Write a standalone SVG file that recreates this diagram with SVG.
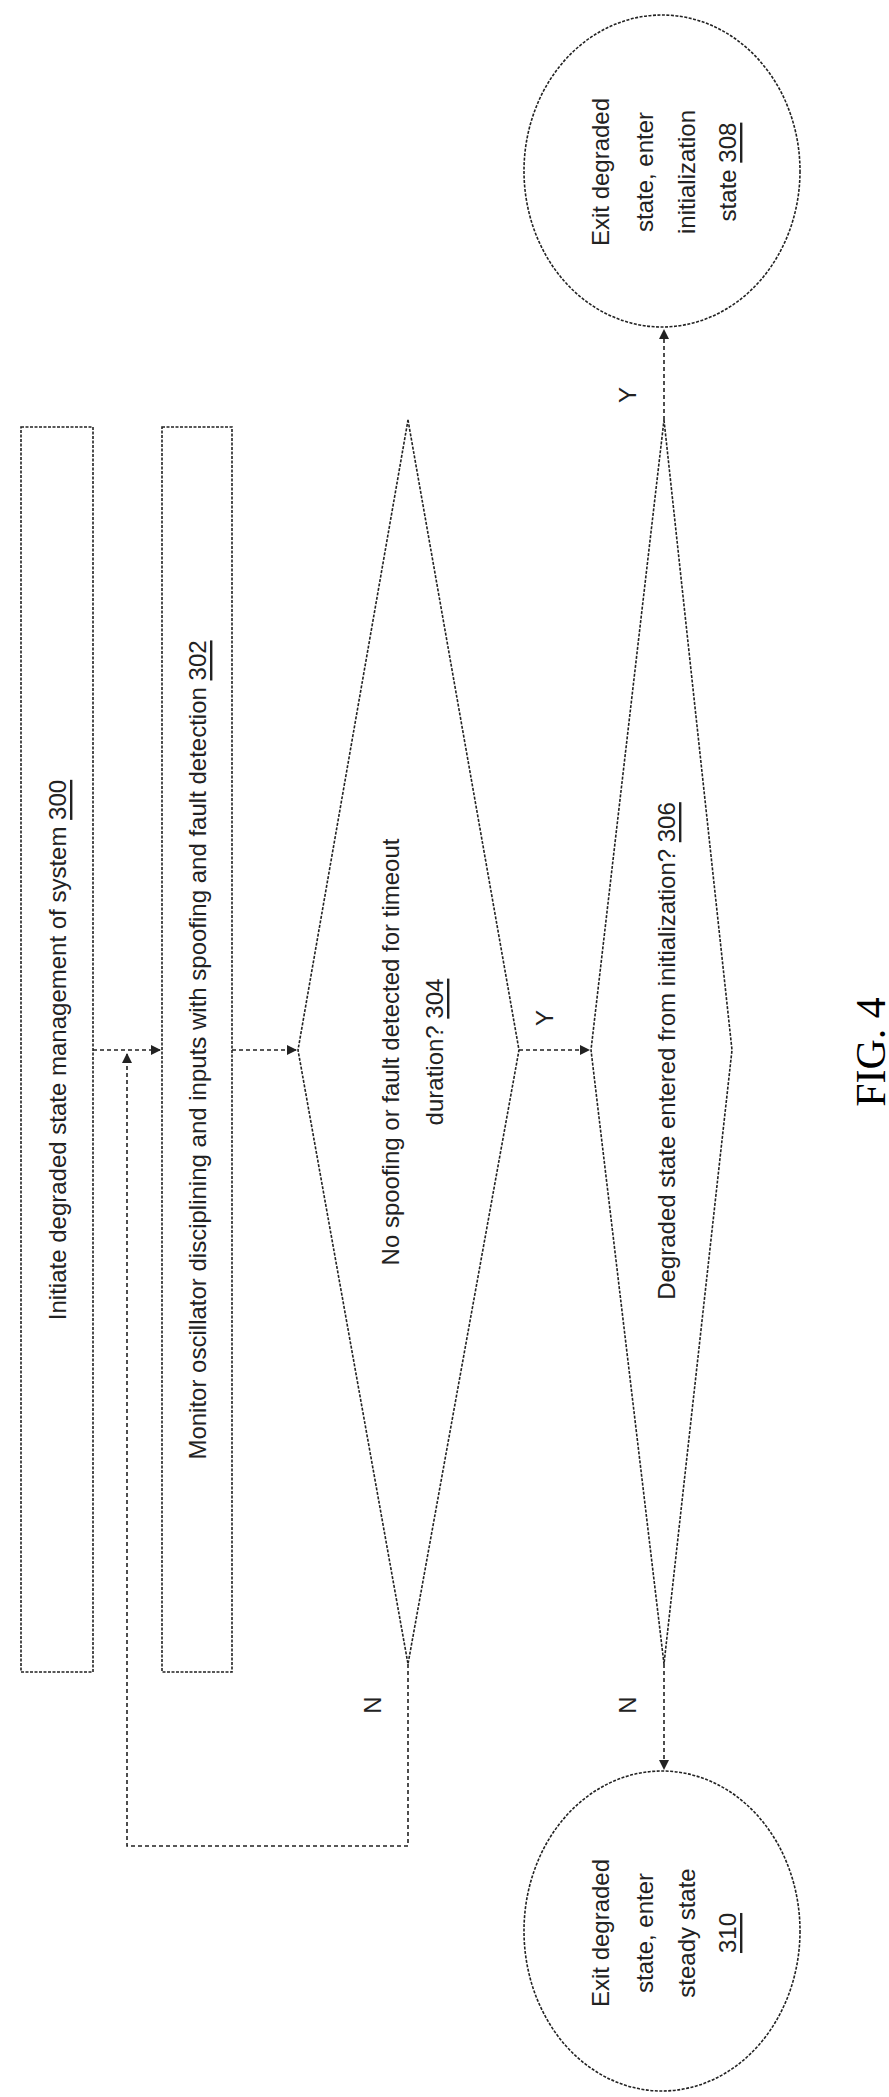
<svg xmlns="http://www.w3.org/2000/svg" width="889" height="2097" viewBox="0 0 889 2097">
<style>
.s{fill:none;stroke:#222;stroke-width:1.6;stroke-dasharray:3 1.5}
.c{fill:none;stroke:#222;stroke-width:1.6;stroke-dasharray:4 3}
text{font-family:"Liberation Sans",Arial,sans-serif;font-size:24px;fill:#222;text-anchor:middle;dominant-baseline:central}
.f{font-family:"Liberation Serif","Times New Roman",serif;font-size:42px;fill:#000}
</style>
<defs><marker id="a" markerWidth="10" markerHeight="10" refX="9" refY="5" orient="auto" markerUnits="userSpaceOnUse"><path d="M0,0 L10,5 L0,10 z" fill="#222"/></marker></defs>
<rect width="889" height="2097" fill="#fff"/>
<g id="n300"><rect class="s" x="21" y="427" width="72" height="1245"/><text transform="translate(57,1050) rotate(-90)">Initiate degraded state management of system <tspan text-decoration="underline">300</tspan></text></g>
<g id="n302"><rect class="s" x="162" y="427" width="70" height="1245"/><text transform="translate(197,1050) rotate(-90)">Monitor oscillator disciplining and inputs with spoofing and fault detection <tspan text-decoration="underline">302</tspan></text></g>
<g id="n304"><polygon class="s" points="408,420 519,1050 408,1664 298,1050"/><text transform="translate(390,1052) rotate(-90)">No spoofing or fault detected for timeout</text><text transform="translate(434,1052) rotate(-90)">duration? <tspan text-decoration="underline">304</tspan></text></g>
<g id="n306"><polygon class="s" points="664,420 732,1050 664,1664 591,1050"/><text transform="translate(666,1051) rotate(-90)">Degraded state entered from initialization? <tspan text-decoration="underline">306</tspan></text></g>
<g id="n308"><ellipse class="s" cx="662" cy="171" rx="138" ry="156"/><text transform="translate(600,172) rotate(-90)">Exit degraded</text><text transform="translate(644,172) rotate(-90)">state, enter</text><text transform="translate(686,172) rotate(-90)">initialization</text><text transform="translate(727,172) rotate(-90)">state <tspan text-decoration="underline">308</tspan></text></g>
<g id="n310"><ellipse class="s" cx="662" cy="1931" rx="138" ry="160"/><text transform="translate(600,1933) rotate(-90)">Exit degraded</text><text transform="translate(644,1933) rotate(-90)">state, enter</text><text transform="translate(686,1933) rotate(-90)">steady state</text><text transform="translate(727,1933) rotate(-90)"><tspan text-decoration="underline">310</tspan></text></g>
<g id="connectors">
<path class="c" d="M93,1050 H160" marker-end="url(#a)"/>
<path class="c" d="M232,1050 H296" marker-end="url(#a)"/>
<path class="c" d="M519,1050 H589" marker-end="url(#a)"/>
<path class="c" d="M664,420 V330" marker-end="url(#a)"/>
<path class="c" d="M664,1664 V1769" marker-end="url(#a)"/>
<path class="c" d="M408,1664 V1846 H127 V1054" marker-end="url(#a)"/>
<text transform="translate(627,395) rotate(-90)">Y</text>
<text transform="translate(544,1018) rotate(-90)">Y</text>
<text transform="translate(372,1705) rotate(-90)">N</text>
<text transform="translate(627,1705) rotate(-90)">N</text>
</g>
<text class="f" transform="translate(871,1052) rotate(-90)">FIG. 4</text>
</svg>
